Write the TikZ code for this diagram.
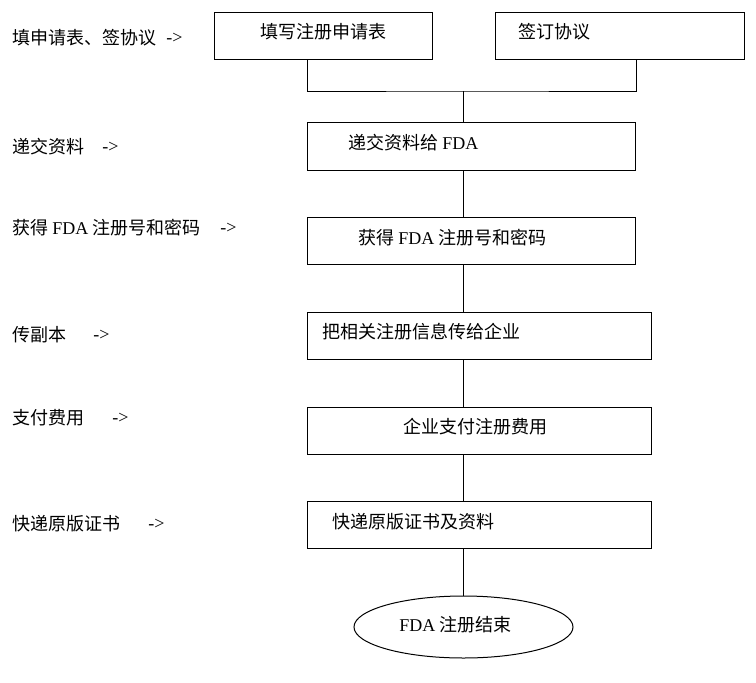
\documentclass[tikz,border=0pt]{standalone}
\usepackage{fontspec}
\setmainfont{Liberation Serif}
\newfontfamily\cjk{Noto Sans CJK SC}
\usetikzlibrary{shapes.geometric}
\begin{document}
\begin{tikzpicture}[x=0.75pt,y=-0.75pt,
  box/.style={draw,line width=0.75pt,rectangle,inner sep=0,anchor=north west},
  txt/.style={inner sep=0,anchor=west,font=\cjk\fontsize{13.5pt}{15pt}\selectfont},
  arr/.style={inner sep=0,anchor=west,font=\fontsize{13.5pt}{15pt}\selectfont},
  line/.style={line width=0.75pt}]
\useasboundingbox (0,0) rectangle (756,682);
% boxes
\node[box,minimum width=163.5pt,minimum height=35.25pt] (b1) at (214,12) {};
\node[box,minimum width=186.75pt,minimum height=35.25pt] (b2) at (495,12) {};
\node[box,minimum width=246pt,minimum height=36pt] (b3) at (307,122) {};
\node[box,minimum width=246pt,minimum height=35.25pt] (b4) at (307,217) {};
\node[box,minimum width=258pt,minimum height=35.25pt] (b5) at (307,312) {};
\node[box,minimum width=258pt,minimum height=35.25pt] (b6) at (307,407) {};
\node[box,minimum width=258pt,minimum height=35.25pt] (b7) at (307,501) {};
\node[draw,line width=0.75pt,ellipse,inner sep=0,minimum width=164.25pt,minimum height=46.5pt] (e) at (463.5,627) {};
% box texts
\node[txt] (t1) at (260,32) {填写注册申请表};
\node[txt] (t2) at (518,32) {签订协议};
\node[txt] (t3) at (348,143) {递交资料给 {\rmfamily FDA}};
\node[txt] (t4) at (358,238) {获得 {\rmfamily FDA} 注册号和密码};
\node[txt] (t5) at (322,332) {把相关注册信息传给企业};
\node[txt] (t6) at (403,427) {企业支付注册费用};
\node[txt] (t7) at (332,522) {快递原版证书及资料};
\node[txt] (te) at (399,625) {{\rmfamily FDA} 注册结束};
% left labels
\node[txt] (l1) at (12,38) {填申请表、签协议};
\node[arr] (a1) at (166,38) {->};
\node[txt] (l2) at (12,147) {递交资料};
\node[arr] (a2) at (102,147) {->};
\node[txt] (l3) at (12,228) {获得 {\rmfamily FDA} 注册号和密码};
\node[arr] (a3) at (220,228) {->};
\node[txt] (l4) at (12,335) {传副本};
\node[arr] (a4) at (93,335) {->};
\node[txt] (l5) at (12,418) {支付费用};
\node[arr] (a5) at (112,418) {->};
\node[txt] (l6) at (12,524) {快递原版证书};
\node[arr] (a6) at (148,524) {->};
% connectors
\coordinate (j) at (463,91);
\draw[line] (b3.north west |- b1.south) |- (j) -| (b3.north east |- b2.south);
\draw[line] (j) -- (j |- b3.north);
\draw[line] (j |- b3.south) -- (j |- b4.north);
\draw[line] (j |- b4.south) -- (j |- b5.north);
\draw[line] (j |- b5.south) -- (j |- b6.north);
\draw[line] (j |- b6.south) -- (j |- b7.north);
\draw[line] (j |- b7.south) -- (j |- e.north);
\end{tikzpicture}
\end{document}
